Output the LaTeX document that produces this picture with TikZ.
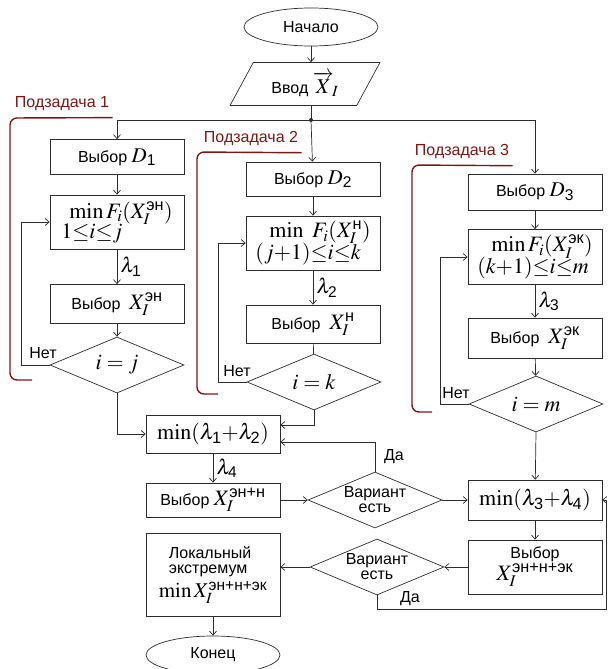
\documentclass[tikz,border=0pt]{standalone}
\usepackage{amsmath}
\usepackage{mathptmx}
\usepackage[no-math]{fontspec}
\setmainfont{Liberation Sans}
\usetikzlibrary{shapes.geometric,arrows.meta}
\definecolor{linecol}{RGB}{45,45,45}
\definecolor{podzcol}{RGB}{130,20,20}
\newcommand{\bmath}[1]{{\fontsize{22}{22}\selectfont$#1$}}
\newcommand{\smath}[1]{{\fontsize{21}{21}\selectfont$#1$}}

\begin{document}
\begin{tikzpicture}[x=1pt,y=-1pt,
        >={Straight Barb[length=4pt,width=7pt]},
        font=\fontsize{16}{15}\selectfont,
        blok/.style={rectangle, draw=linecol, line width=0.7pt, minimum width=134pt, inner sep=1pt},
        romb/.style={diamond, draw=linecol, line width=0.7pt, aspect=2.4, minimum width=134pt, minimum height=56pt, inner sep=0pt, align=center},
        oval/.style={ellipse, draw=linecol, line width=0.7pt, minimum width=134pt, minimum height=38pt},
        pot/.style={draw=linecol, line width=0.7pt, ->},
        lin/.style={draw=linecol, line width=0.7pt},
        podz/.style={draw=podzcol, line width=1.4pt, rounded corners=7pt},
        podzlab/.style={text=podzcol}]
    \useasboundingbox (0,0) rectangle (608,669);

    \node[oval] (nach) at (311,27) {Начало};
    \node[trapezium, trapezium left angle=62, trapezium right angle=118, trapezium stretches=true,
        draw=linecol, line width=0.7pt, minimum width=150pt, minimum height=43pt] (vvod) at (305,84)
        {Ввод \smath{\overrightarrow{X}_{\!I}}};
    \coordinate (razv) at (311,120);

    \node[podzlab] (p1) at (62,104) {Подзадача 1};
    \node[podzlab] (p2) at (251,139) {Подзадача 2};
    \node[podzlab] (p3) at (462,152) {Подзадача 3};

    \node[blok, minimum height=35pt] (d1) at (117,157) {Выбор \smath{D_{\text{1}}}};
    \node[blok, minimum height=54pt, align=left] (f1) at (117,222)
        {\hspace*{8pt}\bmath{\min F_i(X_I^{\text{эн}})}\\[-2pt]\bmath{1{\le}i{\le}j}};
    \node[blok, minimum height=39pt] (x1) at (117,304) {Выбор \ \bmath{X_I^{\text{эн}}}};
    \node[romb] (r1) at (117,365) {\bmath{i=j}};

    \node[blok, minimum height=34pt] (d2) at (313,179) {Выбор \smath{D_{\text{2}}}};
    \node[blok, minimum height=54pt, align=left] (f2) at (313,243)
        {\hspace*{14pt}\bmath{\min\ F_i(X_I^{\text{н}})}\\[-2pt]\bmath{(j{+}1){\le}i{\le}k}};
    \node[blok, minimum height=38pt] (x2) at (313,324) {Выбор \ \bmath{X_I^{\text{н}}}};
    \node[romb] (r2) at (314,382) {\bmath{i=k}};

    \node[blok, minimum height=36pt] (d3) at (535,192) {Выбор \smath{D_{\text{3}}}};
    \node[blok, minimum height=55pt, align=left] (f3) at (535,257)
        {\hspace*{14pt}\bmath{\min F_i(X_I^{\text{эк}})}\\[-2pt]\bmath{(k{+}1){\le}i{\le}m}};
    \node[blok, minimum height=40pt] (x3) at (535,338) {Выбор \ \bmath{X_I^{\text{эк}}}};
    \node[romb] (r3) at (536,404) {\bmath{i=m}};

    \node[blok, minimum height=38pt] (l12) at (213,434) {\bmath{\min(\lambda_{\text{1}}{+}\lambda_{\text{2}})}};
    \node[blok, minimum height=34pt] (x12) at (213,500) {Выбор \bmath{X_I^{\text{эн+н}}}};
    \node[romb] (v1) at (375,500) {Вариант\\есть};
    \node[blok, minimum height=40pt] (l34) at (535,500) {\bmath{\min(\lambda_{\text{3}}{+}\lambda_{\text{4}})}};
    \node[blok, minimum height=54pt, align=center] (x123) at (535,567) {Выбор\\\bmath{X_I^{\text{эн+н+эк}}}};
    \node[romb] (v2) at (377,567) {Вариант\\есть};
    \node[blok, minimum height=83pt, align=left] (lok) at (213,575)
        {\hspace*{10pt}Локальный\\\hspace*{10pt}экстремум\\[4pt]\smath{\min X_I^{\text{эн+н+эк}}}};
    \node[oval] (kon) at (213,655) {Конец};
    \coordinate (obh) at (606,609);

    \node (net1) at (43,353) {Нет};
    \node (net2) at (237,371) {Нет};
    \node (net3) at (456,393) {Нет};
    \node (da1) at (394,457) {Да};
    \node (da2) at (410,599) {Да};

    \draw[podz] (p1.south east) ++(0,3) -- (10,118) -- (10,380) -- (32,380);
    \draw[podz] (p2.south east) ++(0,3) -- (197,152) -- (197,394) -- (218,394);
    \draw[podz] (p3.south east) ++(0,3) -- (412,165) -- (412,412) -- (432,412);

    \draw[pot] (nach) -- (nach |- vvod.north);
    \draw[lin] (vvod.south -| razv) -- (razv);
    \fill[linecol] (razv) circle (2pt);
    \draw[pot] (razv) -| (d1);
    \draw[pot] (razv) -- (d2);
    \draw[pot] (razv) -| (d3);

    \draw[pot] (d1) -- (f1);
    \draw[pot] (f1) -- node[right] (lam1) {\smath{\lambda_{\text{1}}}} (x1);
    \draw[pot] (x1) -- (r1);
    \draw[pot] (r1.west) -- ++(-28,0) |- (f1.west);
    \draw[pot] (r1.south) |- (l12.west);

    \draw[pot] (d2) -- (f2);
    \draw[pot] (f2) -- node[right] (lam2) {\smath{\lambda_{\text{2}}}} (x2);
    \draw[lin] (x2) -- (r2);
    \draw[pot] (r2.west) -- ++(-28,0) |- (f2.west);
    \draw[pot] (r2.south) |- ([yshift=9pt]l12.east);

    \draw[pot] (d3) -- (f3);
    \draw[pot] (f3) -- node[right] (lam3) {\smath{\lambda_{\text{3}}}} (x3);
    \draw[pot] (x3) -- (r3);
    \draw[pot] (r3.west) -- ++(-28,0) |- (f3.west);
    \draw[pot] (r3.south) -- (l34);

    \draw[pot] (l12) -- node[right] (lam4) {\smath{\lambda_{\text{4}}}} (x12);
    \draw[pot] (x12) -- (v1);
    \draw[pot] (v1) -- (l34);
    \draw[pot] (v1.north) |- ([yshift=-8pt]l12.east);
    \draw[pot] (l34) -- (x123);
    \draw[pot] (x123) -- (v2);
    \draw[pot] (v2.west) -- (v2.west -| lok.east);
    \draw[pot] (v2.south) |- (obh) |- (l34.east);
    \draw[pot] (lok) -- (kon);
\end{tikzpicture}
\end{document}
